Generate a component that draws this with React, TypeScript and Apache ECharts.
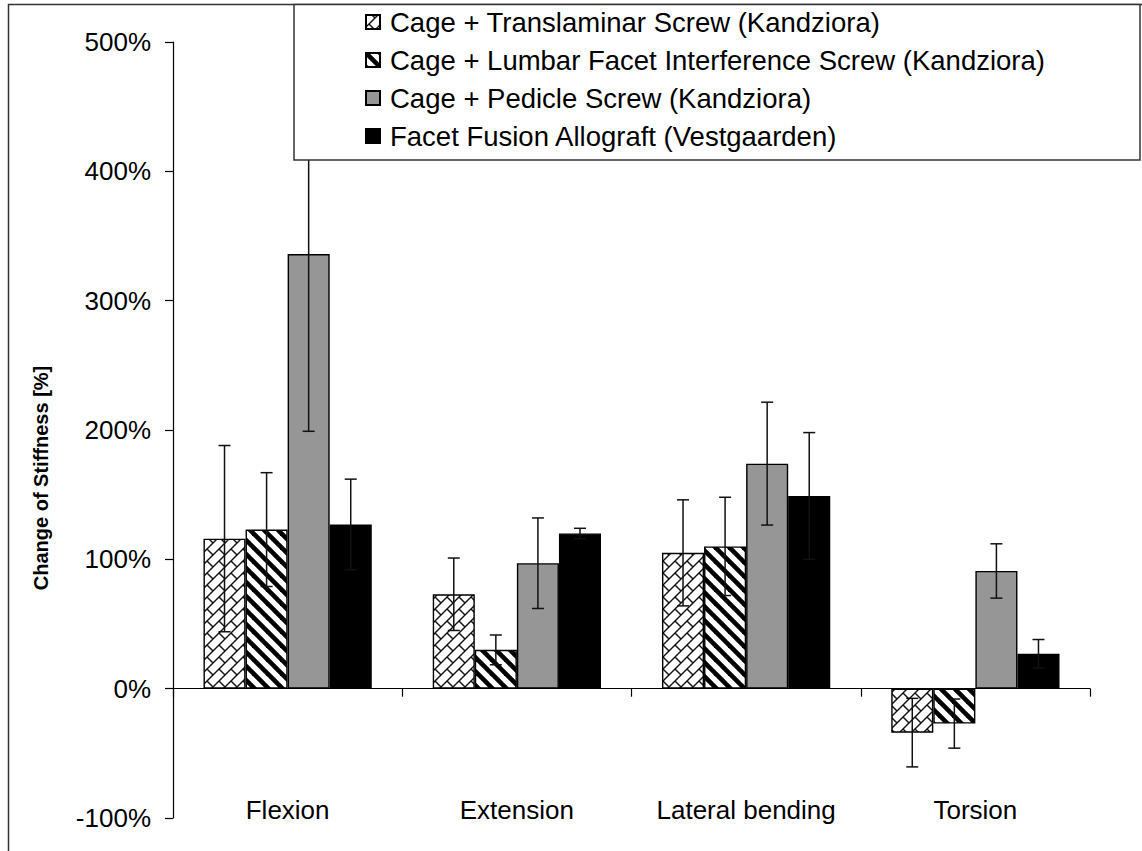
import React, { useEffect, useRef } from 'react';
import * as echarts from 'echarts';

const categories = ['Flexion', 'Extension', 'Lateral bending', 'Torsion'];
const seriesNames = [
  'Cage + Translaminar Screw (Kandziora)',
  'Cage + Lumbar Facet Interference Screw (Kandziora)',
  'Cage + Pedicle Screw (Kandziora)',
  'Facet Fusion Allograft (Vestgaarden)',
];
const translaminar = [116, 73, 105, -34];
const translaminarErr = [72, 28, 41, 26.5];
const lumbarFacet = [123, 30, 110, -27];
const lumbarFacetErr = [44, 11.5, 38, 19];
const pedicle = [336, 97, 174, 91];
const pedicleErr = [137, 35, 47.5, 21];
const allograft = [127, 120, 149, 27];
const allograftErr = [35, 4, 49, 11];

const yMin = -100;
const yMax = 500;
const yInterval = 100;

const FONT = '"Liberation Sans", Arial, Helvetica, sans-serif';
const CAT_GAP = 0.266;

function makeBrick(): HTMLCanvasElement {
  const s = 12;
  const c = document.createElement('canvas');
  c.width = s;
  c.height = s;
  const ctx = c.getContext('2d')!;
  ctx.fillStyle = '#ffffff';
  ctx.fillRect(0, 0, s, s);
  ctx.strokeStyle = '#111111';
  ctx.lineWidth = 1.4;
  const seg = (x1: number, y1: number, x2: number, y2: number) => {
    for (const dx of [-s, 0, s]) {
      for (const dy of [-s, 0, s]) {
        ctx.beginPath();
        ctx.moveTo(x1 + dx, y1 + dy);
        ctx.lineTo(x2 + dx, y2 + dy);
        ctx.stroke();
      }
    }
  };
  seg(0, s, s, 0);
  seg(s / 4, -s / 4, (3 * s) / 4, s / 4);
  return c;
}

function makeStripes(): HTMLCanvasElement {
  const s = 14;
  const c = document.createElement('canvas');
  c.width = s;
  c.height = s;
  const ctx = c.getContext('2d')!;
  ctx.fillStyle = '#ffffff';
  ctx.fillRect(0, 0, s, s);
  ctx.strokeStyle = '#000000';
  ctx.lineWidth = 4.6;
  for (const k of [-s, 0, s]) {
    ctx.beginPath();
    ctx.moveTo(k - 3, -3);
    ctx.lineTo(k + s + 3, s + 3);
    ctx.stroke();
  }
  return c;
}

export default function App() {
  const ref = useRef<HTMLDivElement>(null);

  useEffect(() => {
    if (!ref.current) return;
    const chart = echarts.init(ref.current, undefined, { renderer: 'svg' });

    const brick = makeBrick();
    const stripes = makeStripes();

    const values = [translaminar, lumbarFacet, pedicle, allograft];
    const errs = [translaminarErr, lumbarFacetErr, pedicleErr, allograftErr];
    const fills: any[] = [
      { image: brick, repeat: 'repeat', imageWidth: 12, imageHeight: 12 },
      { image: stripes, repeat: 'repeat', imageWidth: 14, imageHeight: 14 },
      '#969696',
      '#000000',
    ];

    const barSeries = values.map((v, k) => ({
      name: seriesNames[k],
      type: 'bar',
      data: v,
      barGap: '0%',
      barCategoryGap: (CAT_GAP * 100).toFixed(1) + '%',
      itemStyle: { color: fills[k], borderColor: '#000', borderWidth: 1.4 },
      emphasis: { disabled: true },
    }));

    const errSeries = values.map((v, k) => ({
      type: 'custom',
      clip: false,
      z: 3,
      silent: true,
      data: categories.map((_, i) => [i, v[i], errs[k][i]]),
      renderItem: (params: any, api: any) => {
        const cat = api.value(0);
        const val = api.value(1);
        const e = api.value(2);
        const center = api.coord([cat, val]);
        const band = api.size([1, 0])[0];
        const bw = (band * (1 - CAT_GAP)) / 4;
        const x = center[0] + (k - 1.5) * bw;
        const top = api.coord([cat, val + e])[1];
        const bot = api.coord([cat, val - e])[1];
        const hw = 6;
        const st = { stroke: '#111', lineWidth: 1.5 };
        return {
          type: 'group',
          children: [
            { type: 'line', shape: { x1: x, y1: top, x2: x, y2: bot }, style: st },
            { type: 'line', shape: { x1: x - hw, y1: top, x2: x + hw, y2: top }, style: st },
            { type: 'line', shape: { x1: x - hw, y1: bot, x2: x + hw, y2: bot }, style: st },
          ],
        };
      },
    }));

    chart.setOption({
      animation: false,
      backgroundColor: '#ffffff',
      grid: { left: 173, right: 52, top: 42, bottom: 33, containLabel: false, outerBoundsMode: 'none' },
      legend: {
        orient: 'vertical',
        left: 365,
        top: 3,
        padding: 0,
        itemGap: 0,
        itemWidth: 14,
        itemHeight: 14,
        icon: 'rect',
        z: 20,
        selectedMode: false,
        data: seriesNames,
        textStyle: { fontSize: 27.5, fontFamily: FONT, color: '#000', lineHeight: 38, padding: [0, 0, 0, 5] },
      },
      xAxis: {
        type: 'category',
        data: categories,
        axisLine: { onZero: true, lineStyle: { color: '#000', width: 1.2 } },
        axisTick: { show: true, inside: false, length: 8, lineStyle: { color: '#000', width: 1.2 } },
        axisLabel: { interval: 0, margin: -21, fontSize: 26, fontFamily: FONT, color: '#000' },
        splitLine: { show: false },
      },
      yAxis: {
        type: 'value',
        min: yMin,
        max: yMax,
        interval: yInterval,
        axisLine: { show: true, lineStyle: { color: '#000', width: 1.2 } },
        axisTick: { show: true, inside: false, length: 8, lineStyle: { color: '#000', width: 1.2 } },
        axisLabel: { margin: 22, fontSize: 26, fontFamily: FONT, color: '#000', formatter: '{value}%' },
        splitLine: { show: false },
      },
      graphic: [
        {
          type: 'rect',
          z: 0,
          silent: true,
          shape: { x: 8.5, y: 4.5, width: 1300, height: 1000 },
          style: { fill: 'none', stroke: '#333', lineWidth: 1.5 },
        },
        {
          type: 'rect',
          z: 10,
          silent: true,
          shape: { x: 294, y: 4.5, width: 846, height: 155.5 },
          style: { fill: '#fff', stroke: '#333', lineWidth: 1.5 },
        },
        {
          type: 'text',
          z: 10,
          x: 41,
          y: 478,
          rotation: Math.PI / 2,
          style: {
            text: 'Change of Stiffness [%]',
            fontSize: 20,
            fontWeight: 'bold',
            fontFamily: FONT,
            fill: '#000',
            align: 'center',
            verticalAlign: 'middle',
          },
        },
      ],
      series: [...barSeries, ...errSeries],
    } as any);

    return () => chart.dispose();
  }, []);

  return (
    <div
      ref={ref}
      style={{ position: 'fixed', left: 0, top: 0, width: 1142, height: 851, background: '#fff' }}
    />
  );
}
